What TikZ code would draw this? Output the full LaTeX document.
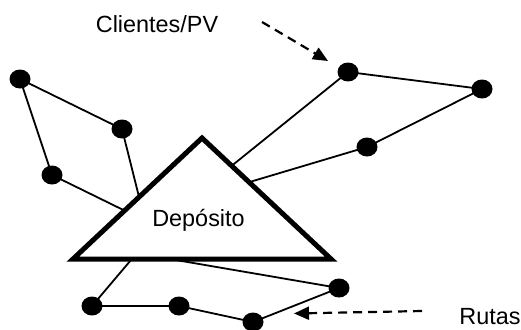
\documentclass[tikz,border=0pt]{standalone}
\usepackage{fontspec}
\setmainfont{Liberation Sans}
\usetikzlibrary{arrows.meta,calc,shapes.geometric,backgrounds}
\begin{document}
\begin{tikzpicture}[x=1pt,y=-1pt,
  dot/.style={ellipse,fill=black,inner sep=0pt,minimum width=21pt,minimum height=19pt},
  route/.style={line width=1.8pt},
  depot/.style={line width=5pt,line join=miter,fill=white},
  hint/.style={line width=2.2pt,dash pattern=on 9pt off 6pt,-{Triangle[length=15pt,width=13pt]}},
  lbl/.style={font=\fontsize{23.4}{28}\selectfont,inner sep=0pt,anchor=base}]
\useasboundingbox (0,0) rectangle (521,329);
% depot triangle corners
\coordinate (L) at (73,259);
\coordinate (T) at (202,138);
\coordinate (R) at (331,259);
% points on the triangle
\coordinate (eB) at ($(L)!0.512!(T)$);
\coordinate (eC) at ($(L)!0.40!(T)$);
\coordinate (eD) at ($(T)!0.23!(R)$);
\coordinate (eF) at ($(T)!0.365!(R)$);
\coordinate (eG) at ($(L)!0.228!(R)$);
\coordinate (eJ) at ($(L)!0.376!(R)$);
% customers
\node[dot] (A) at (20,79) {};
\node[dot] (B) at (122,129) {};
\node[dot] (C) at (52,175) {};
\node[dot] (D) at (348,72) {};
\node[dot] (E) at (482,89) {};
\node[dot] (F) at (367,147) {};
\node[dot] (G) at (92,306) {};
\node[dot] (H) at (179,306) {};
\node[dot] (I) at (253,322) {};
\node[dot] (J) at (339,288) {};
% routes
\begin{scope}[on background layer]
\draw[route] (eB) -- (B.center) -- (A.center) -- (C.center) -- (eC);
\draw[route] (eD) -- (D.center) -- (E.center) -- (F.center) -- (eF);
\draw[route] (eG) -- (G.center) -- (H.center) -- (I.center) -- (J.center) -- (eJ);
\end{scope}
% depot
\draw[depot] (L) -- (T) -- (R) -- cycle;
\node[lbl] (dep) at (198.5,226) {Depósito};
% labels and hint arrows
\node[lbl] (cli) at (157,33) {Clientes/PV};
\node[lbl] (rut) at (490,324) {Rutas};
\coordinate (a1s) at (262,22);
\coordinate (a1e) at (328,61);
\coordinate (a2s) at (422,311);
\coordinate (a2e) at (294,313.5);
\draw[hint] (a1s) -- (a1e);
\draw[hint] (a2s) -- (a2e);
\end{tikzpicture}
\end{document}
